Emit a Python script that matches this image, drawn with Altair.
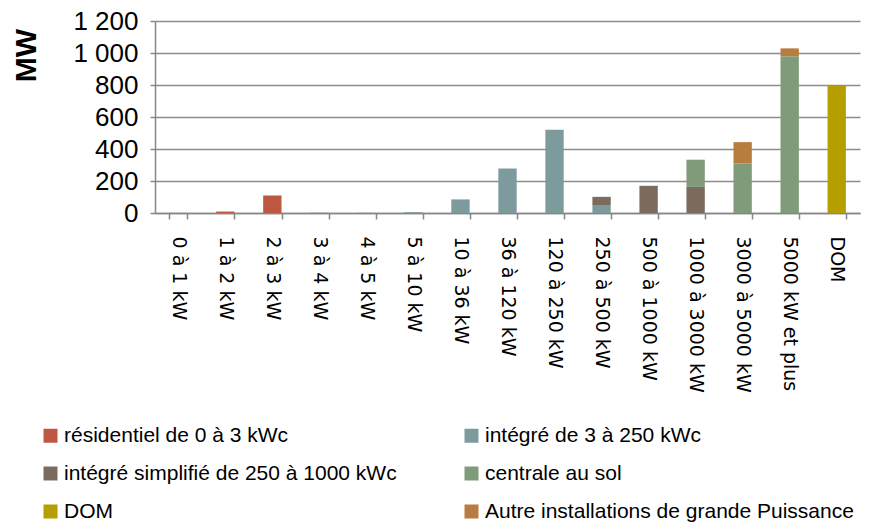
import altair as alt
import pandas as pd

categories = ["0 à 1 kW", "1 à 2 kW", "2 à 3 kW", "3 à 4 kW", "4 à 5 kW", "5 à 10 kW",
              "10 à 36 kW", "36 à 120 kW", "120 à 250 kW", "250 à 500 kW", "500 à 1000 kW",
              "1000 à 3000 kW", "3000 à 5000 kW", "5000 kW et plus", "DOM"]

series_names = ["résidentiel de 0 à 3 kWc", "intégré de 3 à 250 kWc",
                "intégré simplifié de 250 à 1000 kWc", "centrale au sol",
                "DOM", "Autre installations de grande Puissance"]

residentiel = [0.5, 9, 110, 0, 0, 0, 0, 0, 0, 0, 0, 0, 0, 0, 0]
integre = [0, 0, 0, 2, 1, 5, 85, 278, 520, 50, 0, 0, 0, 0, 0]
integre_simplifie = [0, 0, 0, 0, 0, 0, 0, 0, 0, 51, 170, 163, 0, 0, 0]
centrale_sol = [0, 0, 0, 0, 0, 0, 0, 0, 0, 0, 0, 170, 309, 980, 0]
dom = [0, 0, 0, 0, 0, 0, 0, 0, 0, 0, 0, 0, 0, 0, 795]
autre = [0, 0, 0, 0, 0, 0, 0, 0, 0, 0, 0, 0, 134, 49, 0]

colors = ["#BE5843", "#7D9B9D", "#7A6B5E", "#7F9B7A", "#B59F00", "#B97C3F"]

series_values = [residentiel, integre, integre_simplifie, centrale_sol, dom, autre]
rows = []
for si, (name, vals) in enumerate(zip(series_names, series_values)):
    for cat, v in zip(categories, vals):
        rows.append({"cat": cat, "serie": name, "val": v, "ord": si})
df = pd.DataFrame(rows)

# legend is laid out column by column: order the domain so it reads row by row
legend_order = [0, 2, 4, 1, 3, 5]
legend_domain = [series_names[i] for i in legend_order]
legend_colors = [colors[i] for i in legend_order]

chart = alt.Chart(df).mark_bar().encode(
    x=alt.X("cat:N", sort=categories, title=None,
            scale=alt.Scale(paddingInner=0.61, paddingOuter=0.3),
            axis=alt.Axis(labelAngle=90, labelFontSize=19, labelFont="DejaVu Sans",
                          labelColor="black", labelPadding=17, tickBand="extent",
                          tickSize=6, tickColor="#868686", domainColor="#868686",
                          domainWidth=1.5, tickWidth=1.5)),
    y=alt.Y("val:Q", stack="zero", title="MW",
            scale=alt.Scale(domain=[0, 1200], nice=False),
            axis=alt.Axis(values=[0, 200, 400, 600, 800, 1000, 1200],
                          labelExpr="replace(format(datum.value, ','), ',', ' ')",
                          labelFontSize=26, labelFont="Liberation Sans", labelColor="black",
                          labelPadding=12, tickSize=5, tickColor="#868686",
                          domainColor="#868686", domainWidth=1.5, tickWidth=1.5,
                          gridColor="#8C8C8C", gridWidth=1.5,
                          titleFontSize=30, titleFont="Liberation Sans", titleFontWeight="bold",
                          titleColor="black", titleX=-120, titleY=34, titleAngle=270,
                          titleAlign="center", titleBaseline="alphabetic")),
    color=alt.Color("serie:N",
                    scale=alt.Scale(domain=legend_domain, range=legend_colors),
                    legend=alt.Legend(title=None, orient="none", legendX=-115, legendY=404,
                                      columns=2, columnPadding=64, rowPadding=16,
                                      symbolType="square", symbolSize=196,
                                      symbolStrokeWidth=0,
                                      labelFont="Liberation Sans", labelFontSize=21,
                                      labelColor="black", labelLimit=500, labelOffset=3)),
    order=alt.Order("ord:Q"),
).properties(
    width=705, height=192,
    autosize=alt.AutoSizeParams(type="none"),
    padding={"left": 147, "top": 13, "right": 1, "bottom": 310},
).configure_view(stroke=None)

chart.save("out.html", embed_options={"renderer": "svg", "actions": False})
